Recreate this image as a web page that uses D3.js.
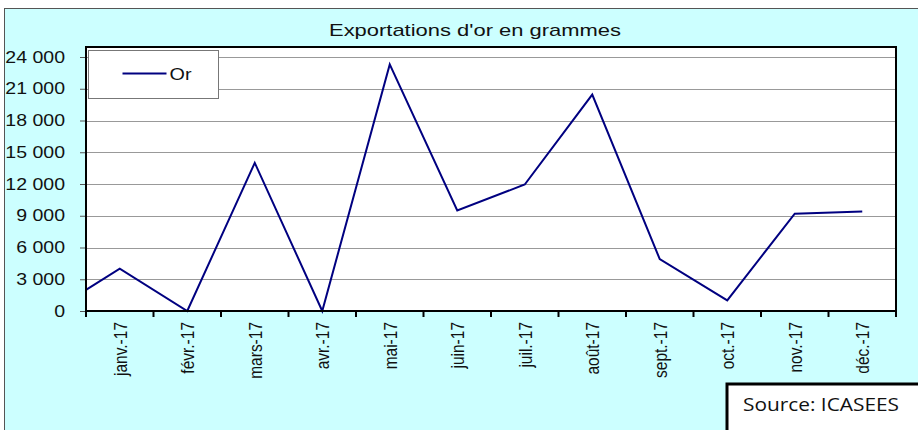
<!DOCTYPE html>
<html>
<head>
<meta charset="utf-8">
<script src="https://cdn.jsdelivr.net/npm/d3@7"></script>
<style>
  body { margin: 0; background: #fff; }
  svg { display: block; font-family: "Liberation Sans", Arial, sans-serif; }
</style>
</head>
<body>
<div id="chart"></div>
<script>
const months = ["janv.-17", "févr.-17", "mars-17", "avr.-17", "mai-17", "juin-17",
                "juil.-17", "août-17", "sept.-17", "oct.-17", "nov.-17", "déc.-17"];
const orValues = [4000, 0, 14000, 0, 23300, 9500, 11950, 20450, 4900, 1000, 9200, 9400];
// la courbe entre dans la zone de tracé à ce niveau (bord gauche)
const startValue = 2000;
const yTicks = [0, 3000, 6000, 9000, 12000, 15000, 18000, 21000, 24000];

const W = 918, H = 430;
const plot = { left: 86, right: 896, top: 47, bottom: 311 };
const sx = 1.22; // le texte de l'original est étiré horizontalement

const svg = d3.select("#chart").append("svg")
    .attr("width", W)
    .attr("height", H);

// fond + cadre
svg.append("rect")
    .attr("x", 4.5).attr("y", 8.5)
    .attr("width", W + 10).attr("height", H + 10)
    .attr("fill", "#ccffff")
    .attr("stroke", "#555").attr("stroke-width", 1);

svg.append("text")
    .attr("x", 475).attr("y", 36)
    .attr("text-anchor", "middle")
    .attr("textLength", 292)
    .attr("lengthAdjust", "spacingAndGlyphs")
    .style("font-size", "17px")
    .attr("fill", "#111")
    .text("Exportations d'or en grammes");

const x = d3.scaleBand()
    .domain(months)
    .range([plot.left, plot.right]);

const y = d3.scaleLinear()
    .domain([0, 24000])
    .range([plot.bottom, plot.top + 10]);

svg.append("rect")
    .attr("x", plot.left).attr("y", plot.top)
    .attr("width", plot.right - plot.left).attr("height", plot.bottom - plot.top)
    .attr("fill", "#fff");

// grille
svg.append("g")
    .selectAll("line")
    .data(yTicks.filter(d => d > 0))
    .enter()
    .append("line")
    .attr("x1", plot.left).attr("x2", plot.right)
    .attr("y1", d => Math.round(y(d)) + 0.5).attr("y2", d => Math.round(y(d)) + 0.5)
    .attr("stroke", "#999");

// axe Y
const fmt = d => d3.format(",")(d).replace(/,/g, " ");
const yAxis = svg.append("g")
    .attr("transform", `translate(${plot.left},0)`)
    .call(d3.axisLeft(y).tickValues(yTicks).tickSize(6).tickPadding(12).tickFormat(fmt));
yAxis.select(".domain").remove();
yAxis.selectAll(".tick line").attr("stroke", "#555");
yAxis.selectAll(".tick text")
    .attr("x", -21 / sx)
    .attr("transform", `scale(${sx},1)`)
    .style("font-size", "16px")
    .attr("fill", "#111");

// axe X
const tickPos = months.map(m => x(m)).concat([plot.right]);
svg.append("g")
    .selectAll("line")
    .data(tickPos)
    .enter()
    .append("line")
    .attr("x1", d => d).attr("x2", d => d)
    .attr("y1", plot.bottom).attr("y2", plot.bottom + 6)
    .attr("stroke", "#000").attr("stroke-width", 2);

svg.append("g")
    .selectAll("text")
    .data(months)
    .enter()
    .append("text")
    .attr("transform", d => `translate(${x(d) + x.bandwidth() / 2},${plot.bottom + 11}) rotate(-90) scale(1,1.22)`)
    .attr("text-anchor", "end")
    .attr("dy", "0.36em")
    .style("font-size", "15.5px")
    .attr("fill", "#111")
    .text(d => d);

// courbe
const pts = [[plot.left, y(startValue)]]
    .concat(months.map((m, i) => [x(m) + x.bandwidth() / 2, y(orValues[i])]));
svg.append("path")
    .attr("d", d3.line()(pts))
    .attr("fill", "none")
    .attr("stroke", "#000080")
    .attr("stroke-width", 2);

// cadre de la zone de tracé
svg.append("rect")
    .attr("x", plot.left).attr("y", plot.top)
    .attr("width", plot.right - plot.left).attr("height", plot.bottom - plot.top)
    .attr("fill", "none")
    .attr("stroke", "#000").attr("stroke-width", 2);

// légende
const legend = svg.append("g").attr("transform", "translate(88.5,50.5)");
legend.append("rect")
    .attr("width", 130).attr("height", 48)
    .attr("fill", "#fff")
    .attr("stroke", "#777");
legend.append("line")
    .attr("x1", 34).attr("x2", 78)
    .attr("y1", 23).attr("y2", 23)
    .attr("stroke", "#000080").attr("stroke-width", 2);
legend.append("text")
    .attr("x", 81).attr("y", 29)
    .attr("textLength", 22)
    .attr("lengthAdjust", "spacingAndGlyphs")
    .style("font-size", "16px")
    .attr("fill", "#111")
    .text("Or");

// source
svg.append("rect")
    .attr("x", 727).attr("y", 384)
    .attr("width", 220).attr("height", 80)
    .attr("fill", "#fff")
    .attr("stroke", "#000").attr("stroke-width", 3);
svg.append("text")
    .attr("x", 743).attr("y", 411)
    .attr("textLength", 156)
    .attr("lengthAdjust", "spacingAndGlyphs")
    .style("font-family", "'Open Sans', sans-serif")
    .style("font-size", "18px")
    .attr("fill", "#111")
    .text("Source: ICASEES");
</script>
</body>
</html>
